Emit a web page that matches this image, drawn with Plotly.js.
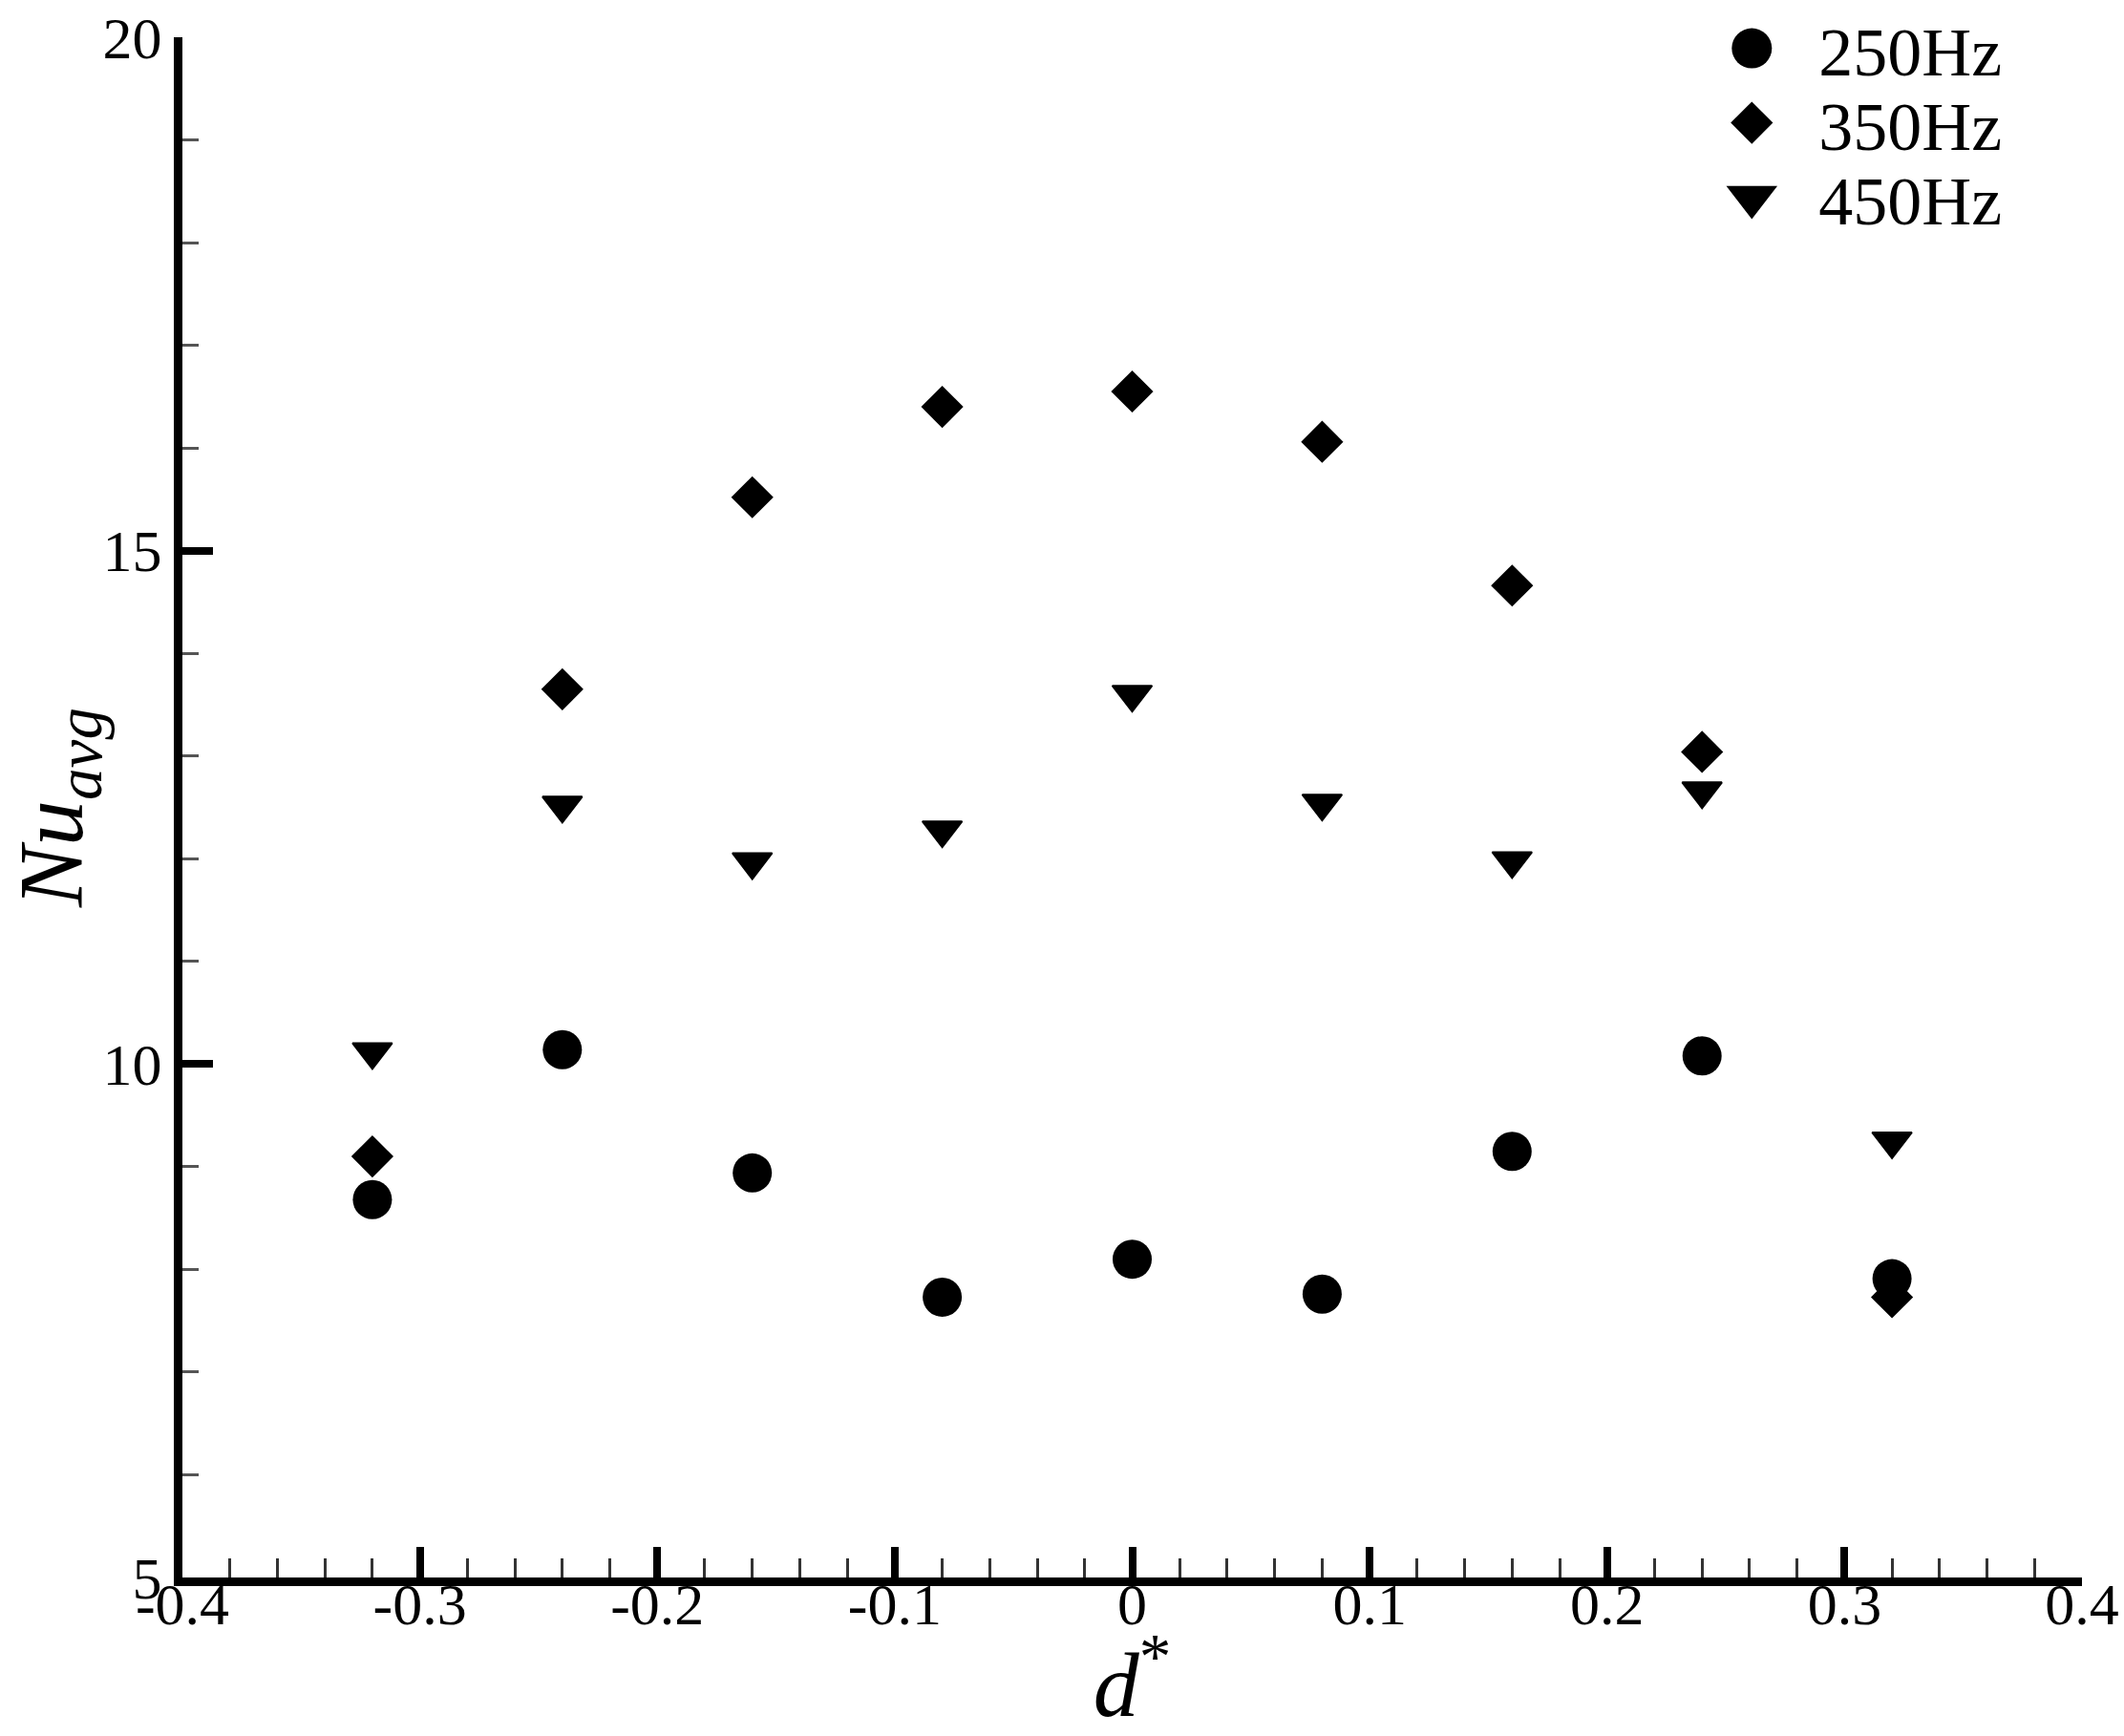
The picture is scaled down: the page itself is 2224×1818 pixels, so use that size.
<!DOCTYPE html>
<html>
<head>
<meta charset="utf-8">
<script src="https://cdn.plot.ly/plotly-3.0.1.min.js"></script>
<style>
html,body{margin:0;padding:0;background:#fff;}
#chart{width:2224px;height:1818px;}
</style>
</head>
<body>
<div id="chart"></div>
<script>
// d* positions
var dStar = [-0.32, -0.24, -0.16, -0.08, 0, 0.08, 0.16, 0.24, 0.32];
// Nu_avg per frequency
var nu250 = [8.68, 10.14, 8.94, 7.73, 8.10, 7.76, 9.15, 10.08, 7.91];
var nu350 = [9.10, 13.65, 15.52, 16.40, 16.55, 16.06, 14.66, 13.04, 7.73];
var nu450 = [10.12, 12.52, 11.97, 12.28, 13.60, 12.54, 11.98, 12.66, 9.25];
var seriesNames = ['250Hz', '350Hz', '450Hz'];
var xTickVals = [-0.4, -0.3, -0.2, -0.1, 0, 0.1, 0.2, 0.3, 0.4];
var xTickText = ['-0.4', '-0.3', '-0.2', '-0.1', '0', '0.1', '0.2', '0.3', '0.4'];
var yTickVals = [5, 10, 15, 20];
var yTickText = ['5', '10', '15', '20'];

var serif = 'Liberation Serif, Times New Roman, serif';

var traces = [
  {x: dStar, y: nu250, name: seriesNames[0], mode: 'markers', type: 'scatter',
   marker: {symbol: 'circle', size: 41, color: '#000', line: {width: 0}}},
  {x: dStar, y: nu350, name: seriesNames[1], mode: 'markers', type: 'scatter',
   marker: {symbol: 'diamond', size: 34, color: '#000', line: {width: 0}}},
  {x: dStar, y: nu450, name: seriesNames[2], mode: 'markers', type: 'scatter',
   marker: {symbol: 'triangle-down', size: 36, color: '#000', line: {width: 2, color: '#000'}}}
];

var layout = {
  width: 2224, height: 1818,
  paper_bgcolor: '#fff', plot_bgcolor: '#fff',
  margin: {l: 191, r: 44, t: 38, b: 166, pad: 0},
  font: {family: serif, color: '#000', size: 62},
  showlegend: true,
  legend: {
    x: 0.791, y: 1.017, xanchor: 'left', yanchor: 'top',
    bgcolor: 'rgba(0,0,0,0)', borderwidth: 0,
    font: {family: serif, size: 72, color: '#000'},
    itemwidth: 130
  },
  xaxis: {
    range: [-0.4, 0.4], autorange: false,
    tickmode: 'array', tickvals: xTickVals, ticktext: xTickText,
    ticks: 'inside', ticklen: 32, tickwidth: 8, tickcolor: '#000',
    ticklabelstandoff: -34,
    showline: true, linewidth: 9, linecolor: '#000', mirror: false,
    showgrid: false, zeroline: false,
    tickfont: {family: serif, size: 62, color: '#000'},
    minor: {dtick: 0.02, tick0: 0, ticks: 'inside', ticklen: 20, tickwidth: 3, tickcolor: '#333', showgrid: false},
    title: {text: '<i>d</i><sup>*</sup>', font: {family: serif, size: 96, color: '#000'}, standoff: 10}
  },
  yaxis: {
    range: [5, 20], autorange: false,
    tickmode: 'array', tickvals: yTickVals, ticktext: yTickText,
    ticks: 'inside', ticklen: 32, tickwidth: 8, tickcolor: '#000',
    showline: true, linewidth: 9, linecolor: '#000', mirror: false,
    showgrid: false, zeroline: false,
    tickfont: {family: serif, size: 62, color: '#000'},
    minor: {dtick: 1, tick0: 0, ticks: 'inside', ticklen: 17, tickwidth: 3, tickcolor: '#555', showgrid: false},
    title: {text: '<i>Nu</i><sub><i>avg</i></sub>', font: {family: serif, size: 96, color: '#000'}, standoff: 42}
  }
};

Plotly.newPlot('chart', traces, layout, {displayModeBar: false, staticPlot: true}).then(function () {
  // enlarge legend symbols (Plotly caps them at 16px) and tighten row spacing
  var scales = [42 / 16, 34 / 16, 38 / 16];
  var items = document.querySelectorAll('.legend .traces');
  items.forEach(function (g, i) {
    g.setAttribute('transform', 'translate(0,' + (40 + i * 78) + ')');
    var pts = g.querySelectorAll('.legendpoints path.scatterpts');
    pts.forEach(function (p) {
      var t = p.getAttribute('transform') || '';
      p.setAttribute('transform', t + ' scale(' + scales[i] + ')');
    });
  });
});
</script>
</body>
</html>
